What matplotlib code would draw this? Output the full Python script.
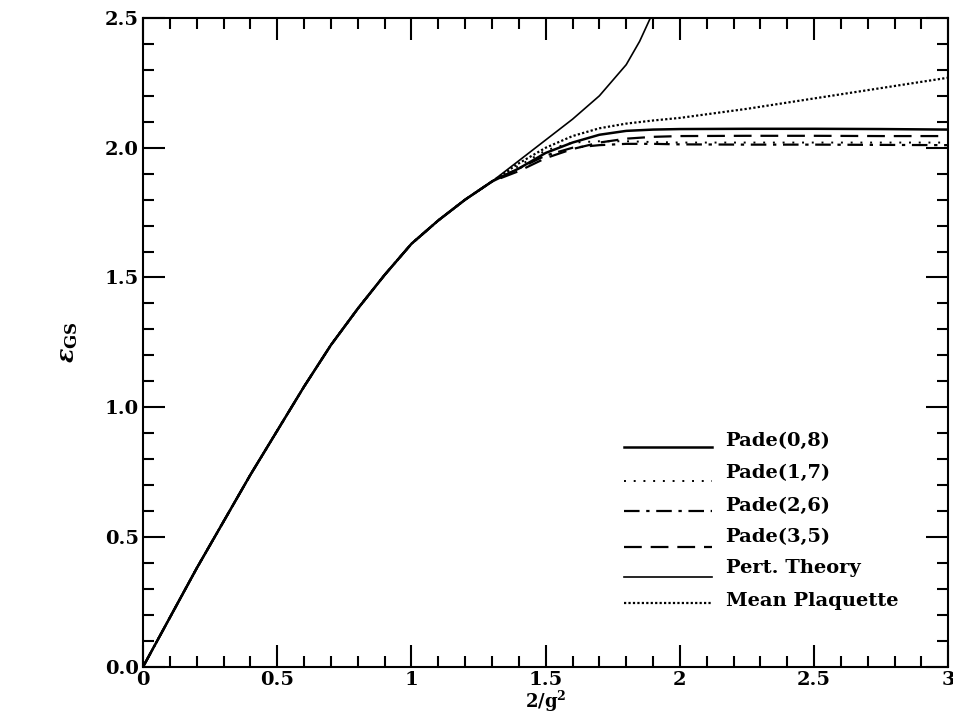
import matplotlib
matplotlib.use("Agg")
import matplotlib.pyplot as plt
from matplotlib.ticker import MultipleLocator, FixedFormatter, FixedLocator

plt.rcParams["font.family"] = "DejaVu Serif"
plt.rcParams["font.weight"] = "bold"
plt.rcParams["mathtext.fontset"] = "dejavuserif"

# shared weak-coupling part of every curve
x_low = [0.0, 0.1, 0.2, 0.3, 0.4, 0.5, 0.6, 0.7, 0.8, 0.9, 1.0, 1.1, 1.2, 1.3]
y_low = [0.0, 0.19, 0.38, 0.56, 0.74, 0.91, 1.08, 1.24, 1.38, 1.51, 1.63, 1.72, 1.80, 1.87]

x_pert = [1.4, 1.5, 1.6, 1.7, 1.8, 1.85, 1.89, 1.9]
y_pert = [1.95, 2.03, 2.11, 2.20, 2.32, 2.41, 2.5, 2.53]

x_hi = [1.4, 1.5, 1.6, 1.7, 1.8, 1.9, 2.0, 2.25, 2.5, 2.75, 3.0]
y_pade08 = [1.92, 1.98, 2.02, 2.05, 2.065, 2.07, 2.072, 2.073, 2.073, 2.072, 2.07]
y_pade17 = [1.93, 1.99, 2.02, 2.025, 2.025, 2.022, 2.02, 2.02, 2.02, 2.02, 2.02]
y_pade26 = [1.92, 1.97, 2.0, 2.01, 2.015, 2.015, 2.013, 2.012, 2.012, 2.011, 2.01]
y_pade35 = [1.91, 1.96, 1.995, 2.02, 2.035, 2.042, 2.045, 2.046, 2.046, 2.045, 2.045]
y_meanpl = [1.94, 2.0, 2.045, 2.075, 2.093, 2.105, 2.115, 2.15, 2.19, 2.23, 2.27]

labels = ["Pade(0,8)", "Pade(1,7)", "Pade(2,6)", "Pade(3,5)", "Pert. Theory", "Mean Plaquette"]

fig = plt.figure(figsize=(9.54, 7.2), dpi=100)
ax = fig.add_axes([0.150, 0.074, 0.844, 0.901])

styles = [
    dict(color="black", lw=1.8, ls="-"),
    dict(color="black", lw=1.4, ls=(0, (1, 4))),
    dict(color="black", lw=1.6, ls=(0, (7, 3, 1.5, 3))),
    dict(color="black", lw=1.6, ls=(0, (8, 4))),
    dict(color="black", lw=1.2, ls="-"),
    dict(color="black", lw=1.6, ls=(0, (1, 1))),
]
series = [y_pade08, y_pade17, y_pade26, y_pade35, None, y_meanpl]

for lab, st, ys in zip(labels, styles, series):
    if ys is None:
        xs, yy = x_low + x_pert, y_low + y_pert
    else:
        xs, yy = x_low + x_hi, y_low + ys
    ax.plot(xs, yy, **st)

# legend drawn by hand: sample line on the left, label on the right
leg_text_y = [0.87, 0.745, 0.62, 0.50, 0.38, 0.255]
leg_line_y = [0.847, 0.716, 0.60, 0.46, 0.345, 0.247]
for lab, st, yt, yl in zip(labels, styles, leg_text_y, leg_line_y):
    ax.plot([1.79, 2.12], [yl, yl], **st)
    ax.text(2.17, yt, lab, fontsize=14, fontweight="bold", va="center", ha="left")

ax.set_xlim(0, 3)
ax.set_ylim(0, 2.5)
ax.xaxis.set_major_locator(FixedLocator([0, 0.5, 1, 1.5, 2, 2.5, 3]))
ax.xaxis.set_major_formatter(FixedFormatter(["0", "0.5", "1", "1.5", "2", "2.5", "3"]))
ax.xaxis.set_minor_locator(MultipleLocator(0.1))
ax.yaxis.set_major_locator(MultipleLocator(0.5))
ax.yaxis.set_minor_locator(MultipleLocator(0.1))
ax.yaxis.set_major_formatter(plt.FuncFormatter(lambda v, p: f"{v:.1f}"))

ax.tick_params(which="both", direction="in", top=True, right=True, width=1.5)
ax.tick_params(which="major", length=16, labelsize=14, pad=3)
ax.tick_params(which="minor", length=8)
for lbl in ax.get_xticklabels() + ax.get_yticklabels():
    lbl.set_fontweight("bold")
for sp in ax.spines.values():
    sp.set_linewidth(1.5)

ax.set_xlabel(r"$\mathbf{2/g^2}$", fontsize=13, labelpad=0)
ax.set_ylabel(r"$\epsilon_{\mathbf{GS}}$", fontsize=17, labelpad=18)

fig.savefig("out.png", dpi=100)
